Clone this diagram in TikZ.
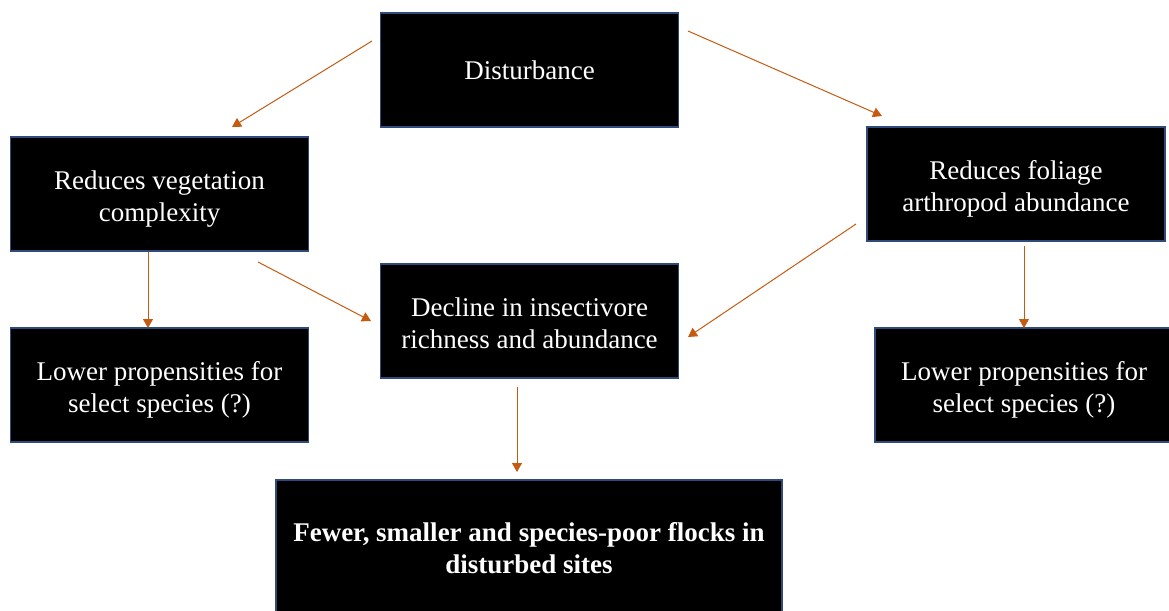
\documentclass[tikz,border=0pt]{standalone}
\usepackage{fontspec}
\setmainfont{Liberation Serif}
\usetikzlibrary{arrows.meta}
\definecolor{boxline}{HTML}{2F4B7C}
\definecolor{arr}{HTML}{C55A11}
\newcommand{\dn}{\rule{0pt}{28pt}}
\tikzset{
  box/.style={draw=boxline, line width=1.5pt, fill=black, text=white, align=center,
    inner sep=0pt, minimum width=298pt, minimum height=114pt,
    font=\fontsize{27pt}{32pt}\selectfont},
  conn/.style={draw=arr, line width=1pt, -{Triangle[width=10pt,length=9pt]}}
}
\begin{document}
\begin{tikzpicture}[x=1pt,y=-1pt]
\useasboundingbox (0,0) rectangle (1169,610);
\node[box] (dist) at (529.5,70) {Disturbance};
\node[box] (veg) at (159.5,194) {\dn Reduces vegetation\\complexity};
\node[box] (fol) at (1016,184) {\dn Reduces foliage\\arthropod abundance};
\node[box] (decl) at (529.5,321) {\rule{0pt}{23pt}Decline in insectivore\\richness and abundance};
\node[box] (lowl) at (159.5,385) {\dn Lower propensities for\\select species (?)};
\node[box] (lowr) at (1024,385) {\dn Lower propensities for\\select species (?)};
\node[box, minimum width=506pt, minimum height=136pt, font=\bfseries\fontsize{27pt}{32pt}\selectfont] (fewer) at (529,548) {Fewer, smaller and species-poor flocks in\\disturbed sites};

\coordinate (a1s) at (372,41);  \coordinate (a1e) at (232,127);
\coordinate (a2s) at (688,31);  \coordinate (a2e) at (882,116);
\coordinate (a3s) at (148,252); \coordinate (a3e) at (148,328);
\coordinate (a4s) at (258,262); \coordinate (a4e) at (371,321);
\coordinate (a5s) at (856,224); \coordinate (a5e) at (688,337);
\coordinate (a6s) at (1024,246);\coordinate (a6e) at (1024,328);
\coordinate (a7s) at (517,387); \coordinate (a7e) at (517,472);

\draw[conn] (a1s) -- (a1e);
\draw[conn] (a2s) -- (a2e);
\draw[conn] (a3s) -- (a3e);
\draw[conn] (a4s) -- (a4e);
\draw[conn] (a5s) -- (a5e);
\draw[conn] (a6s) -- (a6e);
\draw[conn] (a7s) -- (a7e);
\end{tikzpicture}
\end{document}
